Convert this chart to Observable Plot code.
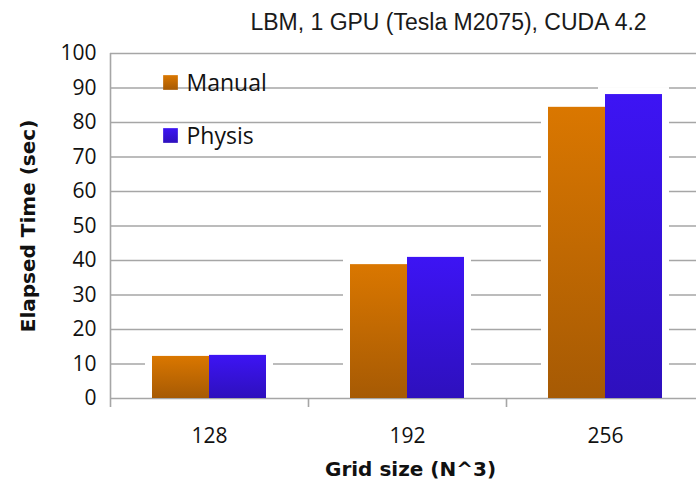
<!DOCTYPE html>
<html>
<head>
<meta charset="utf-8">
<script src="https://cdn.jsdelivr.net/npm/d3@7"></script>
<script src="https://cdn.jsdelivr.net/npm/@observablehq/plot@0.6"></script>
<style>
  html, body { margin: 0; padding: 0; background: #fff; overflow: hidden; }
  #chart { width: 696px; height: 485px; overflow: hidden; }
  #chart svg { max-width: none !important; }
</style>
</head>
<body>
<div id="chart"></div>
<script>
const title = "LBM, 1 GPU (Tesla M2075), CUDA 4.2";
const grids = ["128", "192", "256"];
const manual = [12.2, 38.8, 84.4];
const physis = [12.5, 40.9, 88.1];
const seriesNames = ["Manual", "Physis"];
const yTicks = [0, 10, 20, 30, 40, 50, 60, 70, 80, 90, 100];
const xLabel = "Grid size (N^3)";
const yLabel = "Elapsed Time (sec)";

const manualData = grids.map((g, i) => ({grid: g, value: manual[i]}));
const physisData = grids.map((g, i) => ({grid: g, value: physis[i]}));

const band = 198;
const gridColor = "#a6a6a6";
const labelFont = "'Open Sans', Lato, sans-serif";
const titleFont = "'DejaVu Sans', 'Open Sans', sans-serif";

const plot = Plot.plot({
  width: 706,
  height: 485,
  marginLeft: 110,
  marginRight: 2,
  marginTop: 53,
  marginBottom: 87,
  style: {background: "transparent", overflow: "visible", fontSize: "21px", color: "#111", fontFamily: labelFont},
  x: {domain: grids, padding: 0, axis: "bottom", tickSize: 0, tickPadding: 30, label: null},
  y: {domain: [0, 100], ticks: yTicks, tickSize: 0, tickPadding: 14, label: null},
  marks: [
    Plot.ruleY(yTicks.filter(d => d > 0), {stroke: gridColor, strokeWidth: 1.6}),
    // white halo/shadow around bars
    Plot.barY(manualData, {x: "grid", y: "value", insetLeft: 42, insetRight: 99, fill: "#fff", stroke: "#fff", strokeWidth: 14}),
    Plot.barY(physisData, {x: "grid", y: "value", insetLeft: 99, insetRight: 42, fill: "#fff", stroke: "#fff", strokeWidth: 14}),
    Plot.ruleY([0], {stroke: gridColor, strokeWidth: 1.6}),
    // left axis line and category boundary ticks
    Plot.ruleX([grids[0]], {x: d => d, y1: 0, y2: 100, dx: -band / 2, stroke: gridColor, strokeWidth: 1.6}),
    Plot.ruleX(grids, {x: d => d, y1: 0, y2: 0, insetBottom: -9, dx: -band / 2, stroke: gridColor, strokeWidth: 1.6}),
    Plot.tickY(yTicks, {y: d => d, x: grids[0], dx: -band / 2 - 4.5, stroke: gridColor, strokeWidth: 1.6}),
    Plot.barY(manualData, {x: "grid", y: "value", insetLeft: 42, insetRight: 99, fill: "url(#gManual)"}),
    Plot.barY(physisData, {x: "grid", y: "value", insetLeft: 99, insetRight: 42, fill: "url(#gPhysis)"}),
    // legend
    Plot.dot([seriesNames[0]], {frameAnchor: "top-left", dx: 60, dy: 29, symbol: "square", r: 8.3, fill: "url(#gManual)", stroke: "none"}),
    Plot.dot([seriesNames[1]], {frameAnchor: "top-left", dx: 60, dy: 82, symbol: "square", r: 8.3, fill: "url(#gPhysis)", stroke: "none"}),
    Plot.text([seriesNames[0]], {text: d => d, frameAnchor: "top-left", textAnchor: "start", lineAnchor: "middle", dx: 76, dy: 30, fontSize: 23, fill: "#111"}),
    Plot.text([seriesNames[1]], {text: d => d, frameAnchor: "top-left", textAnchor: "start", lineAnchor: "middle", dx: 76, dy: 83, fontSize: 23, fill: "#111"}),
    // title and axis labels
    Plot.text([title], {text: d => d, frameAnchor: "top", textAnchor: "middle", lineAnchor: "middle", dx: 41, dy: -31, fontSize: 23, fill: "#1a1a1a", fontFamily: "'Liberation Sans', Arial, sans-serif"}),
    Plot.text([xLabel], {text: d => d, frameAnchor: "bottom", textAnchor: "middle", lineAnchor: "middle", dx: 3, dy: 71, fontSize: 20, fontWeight: "bold", fill: "#111", fontFamily: titleFont}),
    Plot.text([yLabel], {text: d => d, frameAnchor: "left", textAnchor: "middle", lineAnchor: "middle", rotate: -90, dx: -82, dy: 0, fontSize: 20, fontWeight: "bold", fill: "#111", fontFamily: titleFont})
  ]
});

// gradients
const ns = "http://www.w3.org/2000/svg";
const defs = document.createElementNS(ns, "defs");
function grad(id, top, bottom) {
  const g = document.createElementNS(ns, "linearGradient");
  g.setAttribute("id", id);
  g.setAttribute("x1", "0"); g.setAttribute("y1", "0");
  g.setAttribute("x2", "0"); g.setAttribute("y2", "1");
  [[0, top], [1, bottom]].forEach(([o, c]) => {
    const s = document.createElementNS(ns, "stop");
    s.setAttribute("offset", o);
    s.setAttribute("stop-color", c);
    g.appendChild(s);
  });
  defs.appendChild(g);
}
grad("gManual", "#da7700", "#a65a04");
grad("gPhysis", "#3d14f4", "#2e10bd");
plot.insertBefore(defs, plot.firstChild);
plot.style.maxWidth = "none";
document.getElementById("chart").appendChild(plot);
</script>
</body>
</html>
